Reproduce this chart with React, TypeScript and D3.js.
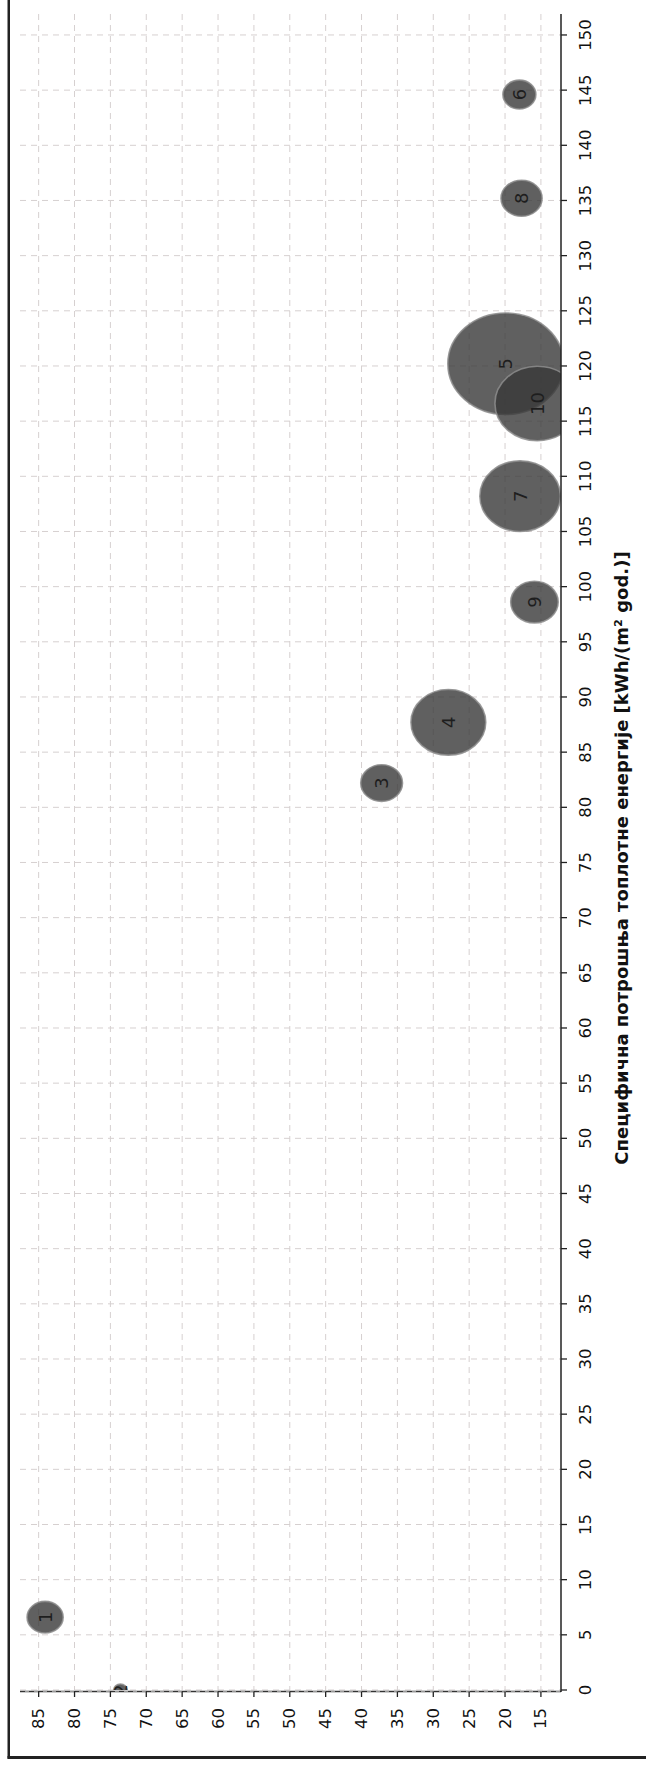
import React from 'react';
import * as d3 from 'd3';

// Bubble labels
const bubbleLabels = ['1', '2', '3', '4', '5', '6', '7', '8', '9', '10'];
// Value on the bottom axis (85 → 15)
const bottomValues = [84.1, 73.6, 37.2, 27.9, 19.9, 18.0, 17.9, 17.7, 15.9, 15.5];
// Specific heat energy consumption [kWh/(m² god.)] (right axis, 0 → 150)
const heatValues = [6.6, 0, 82.2, 87.7, 120.2, 144.6, 108.2, 135.2, 98.6, 116.6];
// Relative bubble size
const bubbleSizes = [9.7, 1.4, 13.0, 41.7, 100, 8.1, 48.3, 12.6, 16.8, 53.6];

const bottomTicks = [85, 80, 75, 70, 65, 60, 55, 50, 45, 40, 35, 30, 25, 20, 15];
const heatTicks = d3.range(0, 151, 5);
const axisTitle = 'Специфична потрошња топлотне енергије [kWh/(m² god.)]';

const W = 646;
const H = 1773;
const FONT = '"DejaVu Sans", Verdana, sans-serif';

export default function App() {
  const plotLeft = 20;
  const plotRight = 561;
  const plotTop = 14;
  const plotBottom = 1690;

  const xScale = d3.scaleLinear().domain([87.6, 12.2]).range([plotLeft, plotRight]);
  const yScale = d3.scaleLinear().domain([0, 151.9]).range([plotBottom, plotTop]);
  const rScale = d3.scaleSqrt().domain([0, 100]).range([0, 50.8]);
  const aspect = 1.14;

  const gridColor = '#d6d0d0';

  const data = bubbleLabels.map((l, i) => ({
    label: l,
    cx: xScale(bottomValues[i]),
    cy: yScale(heatValues[i]),
    r: rScale(bubbleSizes[i]),
  }));

  return (
    <svg
      width={W}
      height={H}
      viewBox={`0 0 ${W} ${H}`}
      style={{ position: 'absolute', left: 0, top: 0, display: 'block', background: '#fff' }}
      fontFamily={FONT}
    >
      <defs>
        <clipPath id="plotClip">
          <rect x={plotLeft} y={plotTop} width={plotRight - plotLeft} height={plotBottom - plotTop} />
        </clipPath>
      </defs>
      <rect x={0} y={0} width={W} height={H} fill="#fff" />

      {/* grid */}
      <g>
        {bottomTicks.map((t) => (
          <line
            key={'gv' + t}
            x1={xScale(t)}
            x2={xScale(t)}
            y1={plotTop}
            y2={plotBottom}
            stroke={gridColor}
            strokeWidth={1}
            strokeDasharray="6,5"
          />
        ))}
        {heatTicks.map((t) => (
          <line
            key={'gh' + t}
            x1={plotLeft}
            x2={plotRight}
            y1={yScale(t)}
            y2={yScale(t)}
            stroke={gridColor}
            strokeWidth={1}
            strokeDasharray="6,5"
          />
        ))}
      </g>

      {/* bubbles */}
      <g clipPath="url(#plotClip)">
        {data.map((d) => (
          <g key={'b' + d.label}>
            <ellipse
              cx={d.cx}
              cy={d.cy}
              rx={d.r * aspect}
              ry={d.r}
              fill="rgb(56,56,56)"
              fillOpacity={0.8}
              stroke="rgb(140,140,140)"
              strokeOpacity={0.85}
              strokeWidth={1.6}
            />
            <text
              transform={`translate(${d.cx},${d.cy}) rotate(-90)`}
              textAnchor="middle"
              dominantBaseline="central"
              fontSize={18}
              fill="#1e1e1e"
            >
              {d.label}
            </text>
          </g>
        ))}
      </g>

      {/* bottom axis */}
      <line x1={plotLeft} x2={plotRight} y1={plotBottom + 1.5} y2={plotBottom + 1.5} stroke="#9a9a9a" strokeWidth={2} />
      <line x1={plotLeft} x2={plotRight} y1={plotBottom + 1.5} y2={plotBottom + 1.5} stroke="#333" strokeWidth={1.2} strokeDasharray="5,4" />
      {bottomTicks.map((t) => (
        <g key={'bt' + t}>
          <line x1={xScale(t)} x2={xScale(t)} y1={plotBottom + 1.5} y2={plotBottom + 7} stroke="#222" strokeWidth={1.3} />
          <text
            transform={`translate(${xScale(t)},${plotBottom + 18}) rotate(-90)`}
            textAnchor="end"
            dominantBaseline="central"
            fontSize={16.5}
            fill="#111"
          >
            {t}
          </text>
        </g>
      ))}

      {/* right axis */}
      <line x1={plotRight} x2={plotRight} y1={plotTop} y2={plotBottom + 2} stroke="#222" strokeWidth={1.5} />
      {heatTicks.map((t) => (
        <g key={'rt' + t}>
          <line x1={plotRight} x2={plotRight + 6} y1={yScale(t)} y2={yScale(t)} stroke="#222" strokeWidth={1.3} />
          <text
            transform={`translate(585,${yScale(t)}) rotate(-90)`}
            textAnchor="middle"
            dominantBaseline="central"
            fontSize={16.5}
            fill="#111"
          >
            {t}
          </text>
        </g>
      ))}

      {/* axis title */}
      <text
        transform={`translate(628,${(plotTop + plotBottom) / 2 + 6}) rotate(-90)`}
        textAnchor="middle"
        fontSize={18}
        fontWeight="bold"
        fill="#111"
      >
        {axisTitle}
      </text>

      {/* frame */}
      <line x1={8.75} x2={8.75} y1={0} y2={1758.5} stroke="#222" strokeWidth={2.5} />
      <line x1={7.5} x2={W} y1={1757.5} y2={1757.5} stroke="#222" strokeWidth={3} />
    </svg>
  );
}
